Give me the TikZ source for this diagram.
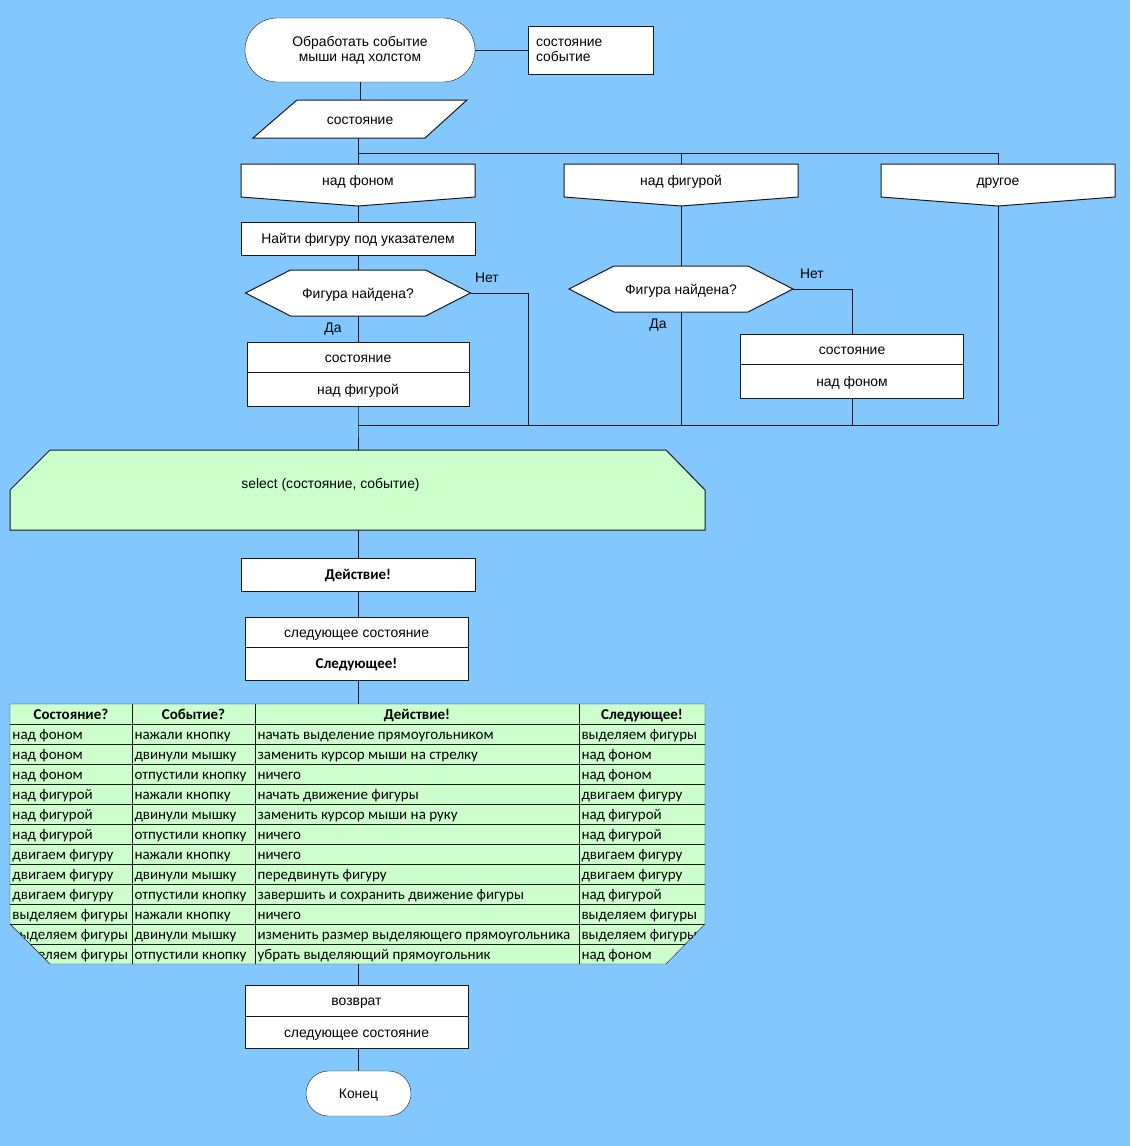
\documentclass[tikz,border=0pt]{standalone}
\usepackage{fontspec}
\setmainfont{Liberation Sans}
\newfontfamily\carl{Carlito}
\usetikzlibrary{shapes.misc,calc}
\definecolor{bg}{RGB}{130,200,255}
\definecolor{lgreen}{RGB}{204,255,204}
\definecolor{ln}{RGB}{25,25,25}
\newcommand\ari{\fontsize{13.9}{15}\selectfont}
\newcommand\tbf{\carl\fontsize{15}{17}\selectfont}
\pgfdeclarelayer{shapes}
\pgfsetlayers{shapes,main}
\begin{document}
\begin{tikzpicture}[x=1pt,y=-1pt,line width=1pt,draw=ln,
  every node/.style={inner sep=0pt,outer sep=0pt,font=\ari},
  one/.style={text height=11,text depth=1},
  rbox/.style 2 args={draw=ln,fill=white,rectangle,minimum width=#1,minimum height=#2,one},
  shp/.style 2 args={rectangle,minimum width=#1,minimum height=#2,one},
  term/.style 2 args={draw=ln,fill=white,rounded rectangle,minimum width=#1,minimum height=#2},
  poly/.style={draw=ln,fill=white,line width=1pt},
  lbl/.style={one},
  cell/.style={anchor=west,font=\tbf,text height=11.5,text depth=1.5},
  head/.style={font=\tbf\bfseries,text height=11.5,text depth=1.5}]
\begin{pgfonlayer}{shapes}
\fill[bg] (0,0) rectangle (1130,1146);
\end{pgfonlayer}
\useasboundingbox (0,0) rectangle (1130,1146);

% start
\node[term={230}{64},align=center] (start) at (360,50) {Обработать событие\\мыши над холстом};
\node[draw=ln,fill=white,rectangle,minimum width=125,minimum height=48,text width=109,inner xsep=8,align=left] (param) at (590.5,50) {состояние\\событие};
\draw (start.east) -- (param.west);

% parallelogram
\node[shp={214}{38}] (par) at (360,119) {состояние};
\begin{pgfonlayer}{shapes}
\draw[poly] (par.south west) -- ($(par.north west)+(44,0)$) -- (par.north east) -- ($(par.south east)+(-42,0)$) -- cycle;
\end{pgfonlayer}
\draw (start.south -| par.north) -- (par.north);

% cases
\node[shp={234}{33}] (c1) at (358,180.5) {над фоном};
\node[shp={234}{33}] (c2) at (681,180.5) {над фигурой};
\node[shp={234}{33}] (c3) at (998,180.5) {другое};
\begin{pgfonlayer}{shapes}
\foreach \n in {c1,c2,c3}{
  \draw[poly] (\n.north west) -- (\n.north east) -- (\n.south east) -- ($(\n.south)+(0,9)$) -- (\n.south west) -- cycle;
}
\end{pgfonlayer}
\coordinate (c1t) at ($(c1.south)+(0,9)$);
\coordinate (c2t) at ($(c2.south)+(0,9)$);
\coordinate (c3t) at ($(c3.south)+(0,9)$);
\coordinate (br) at (358,153);
\draw (par.south -| c1.north) -- (c1.north);
\draw (br) -| (c2.north);
\draw (br) -| (c3.north);

% left branch
\node[rbox={234}{33}] (find) at (358,238.5) {Найти фигуру под указателем};
\draw (c1t) -- (find.north);
\node[shp={225}{46}] (d1) at (358,293) {Фигура найдена?};
\node[shp={224}{46}] (d2) at (681,289) {Фигура найдена?};
\begin{pgfonlayer}{shapes}
\foreach \n in {d1,d2}{
  \draw[poly] (\n.west) -- ($(\n.north west)+(45,0)$) -- ($(\n.north east)+(-45,0)$) -- (\n.east) -- ($(\n.south east)+(-45,0)$) -- ($(\n.south west)+(45,0)$) -- cycle;
}
\end{pgfonlayer}
\draw (find.south) -- (d1.north);
\node[lbl] (no1) at (487,277) {Нет};
\node[lbl] (yes1) at (333,327) {Да};
\node[rbox={222}{30}] (b1a) at (358,357) {состояние};
\node[rbox={222}{34}] (b1b) at (358,389) {над фигурой};
\draw (d1.south) -- (b1a.north);

% middle branch
\draw (c2t) -- (d2.north);
\node[lbl] (no2) at (812,273) {Нет};
\node[lbl] (yes2) at (658,323) {Да};
\node[rbox={223}{30}] (b2a) at (852,349) {состояние};
\node[rbox={223}{34}] (b2b) at (852,381) {над фоном};
\draw (d2.east) -| (b2a.north);

% join
\coordinate (jl) at (358,425);
\coordinate (jn) at (528,425);
\coordinate (jr) at (998,425);
\draw (d1.east) -| (jn);
\draw (b2b.south) -- (b2b.south |- jl);
\draw (d2.south) -- (d2.south |- jl);
\draw (c3t) -- (jr);
\draw (jl) -- (jr);

% select
\node[shp={695}{80}] (sel) at (357.5,490) {};
\begin{pgfonlayer}{shapes}
\draw[poly,fill=lgreen] (sel.south west) -- ($(sel.north west)+(0,40)$) -- ($(sel.north west)+(40,0)$) -- ($(sel.north east)+(-39,0)$) -- ($(sel.north east)+(0,40)$) -- (sel.south east) -- cycle;
\end{pgfonlayer}
\node[lbl] (seltxt) at (330.5,483) {select (состояние, событие)};
\draw (b1b.south) -- (jl) -- (sel.north -| jl);

\node[rbox={234}{33},font=\tbf\bfseries] (act) at (358,574.5) {Действие!};
\draw (sel.south -| act.north) -- (act.north);
\node[rbox={223}{30}] (nx1) at (356.5,632) {следующее состояние};
\node[rbox={223}{33},font=\tbf\bfseries] (nx2) at (356.5,663.5) {Следующее!};
\draw (act.south) -- (act.south |- nx1.north);

% table
\node[shp={695}{260}] (tbl) at (357.5,834) {};
\draw (nx2.south -| act.south) -- (act.south |- tbl.north);
\begin{scope}
\path[clip] (tbl.north west) -- (tbl.north east) -- ($(tbl.south east)+(0,-40)$) -- ($(tbl.south east)+(-39,0)$) -- ($(tbl.south west)+(40,0)$) -- ($(tbl.south west)+(0,-40)$) -- cycle;
\fill[lgreen] (0,690) rectangle (720,980);
\foreach \k in {0,...,11}{ \draw (0,724+20*\k) -- (720,724+20*\k); }
\foreach \cx in {132,255,579}{ \draw (\cx,700) -- (\cx,970); }
\node[head] (h1) at (71,714) {Состояние?};
\node[head] (h2) at (193.5,714) {Событие?};
\node[head] (h3) at (417,714) {Действие!};
\node[head] (h4) at (642,714) {Следующее!};
\foreach \a/\b/\c/\d [count=\i] in {
  над фоном/нажали кнопку/начать выделение прямоугольником/выделяем фигуры,
  над фоном/двинули мышку/заменить курсор мыши на стрелку/над фоном,
  над фоном/отпустили кнопку/ничего/над фоном,
  над фигурой/нажали кнопку/начать движение фигуры/двигаем фигуру,
  над фигурой/двинули мышку/заменить курсор мыши на руку/над фигурой,
  над фигурой/отпустили кнопку/ничего/над фигурой,
  двигаем фигуру/нажали кнопку/ничего/двигаем фигуру,
  двигаем фигуру/двинули мышку/передвинуть фигуру/двигаем фигуру,
  двигаем фигуру/отпустили кнопку/завершить и сохранить движение фигуры/над фигурой,
  выделяем фигуры/нажали кнопку/ничего/выделяем фигуры,
  выделяем фигуры/двинули мышку/изменить размер выделяющего прямоугольника/выделяем фигуры,
  выделяем фигуры/отпустили кнопку/убрать выделяющий прямоугольник/над фоном}{
  \pgfmathsetmacro\yy{714+20*\i}
  \node[cell] (r\i a) at (12.5,\yy) {\a};
  \node[cell] (r\i b) at (134.5,\yy) {\b};
  \node[cell] (r\i c) at (257.5,\yy) {\c};
  \node[cell] (r\i d) at (581.5,\yy) {\d};
}
\end{scope}
\draw (tbl.north west) -- (tbl.north east) -- ($(tbl.south east)+(0,-40)$) -- ($(tbl.south east)+(-39,0)$) -- ($(tbl.south west)+(40,0)$) -- ($(tbl.south west)+(0,-40)$) -- cycle;

% return
\node[rbox={223}{31}] (rt1) at (356.5,1000.5) {возврат};
\node[rbox={223}{32}] (rt2) at (356.5,1032) {следующее состояние};
\draw (tbl.south -| act.south) -- (act.south |- rt1.north);
\node[term={105}{45},one] (end) at (358.5,1093.5) {Конец};
\draw (rt2.south -| act.south) -- (act.south |- end.north);
\end{tikzpicture}
\end{document}
